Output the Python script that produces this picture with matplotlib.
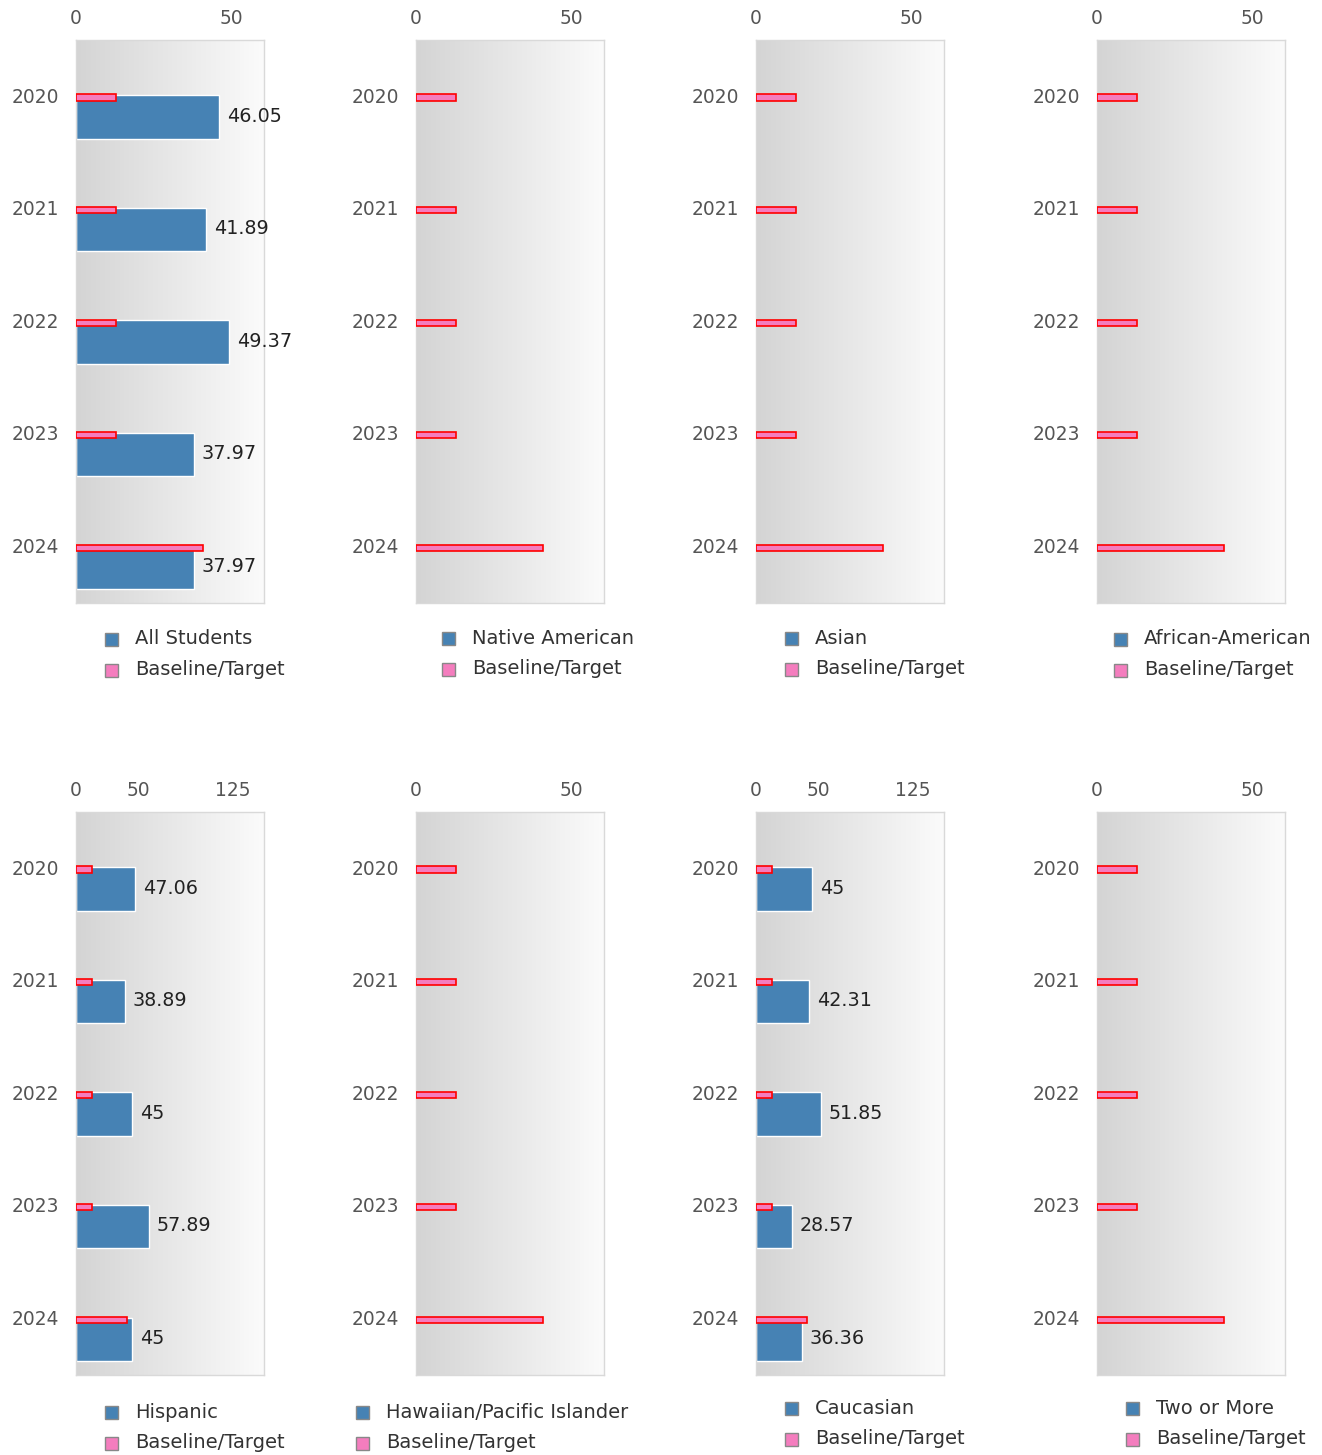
import numpy as np
import matplotlib
matplotlib.use("Agg")
import matplotlib.pyplot as plt
from matplotlib.colors import LinearSegmentedColormap
from matplotlib.patches import Rectangle

# ---------------- data ----------------
years = ["2020", "2021", "2022", "2023", "2024"]
groups = ["All Students", "Native American", "Asian", "African-American",
          "Hispanic", "Hawaiian/Pacific Islander", "Caucasian", "Two or More"]
all_students = [46.05, 41.89, 49.37, 37.97, 37.97]
native_american = [None, None, None, None, None]
asian = [None, None, None, None, None]
african_american = [None, None, None, None, None]
hispanic = [47.06, 38.89, 45, 57.89, 45]
hawaiian = [None, None, None, None, None]
caucasian = [45, 42.31, 51.85, 28.57, 36.36]
two_or_more = [None, None, None, None, None]
baseline_target = [13, 13, 13, 13, 41]
series = [all_students, native_american, asian, african_american,
          hispanic, hawaiian, caucasian, two_or_more]
axis_max = [60.5, 60.5, 60.5, 60.5, 150, 60.5, 150, 60.5]
axis_ticks = [[0, 50], [0, 50], [0, 50], [0, 50],
              [0, 50, 125], [0, 50], [0, 50, 125], [0, 50]]

# ---------------- layout ----------------
W, H = 1322, 1455
fig = plt.figure(figsize=(W / 100, H / 100), dpi=100)
fig.patch.set_facecolor("white")

col_left = [76, 416, 756, 1097]
row_top = [40, 812]
ax_w, ax_h = 188, 563

# legend positions: (marker center x, text left x, row1 y, row2 y)
legend_pos = [(111, 135, 639, 670), (448, 472, 638, 669), (791, 815, 638, 669),
              (1120, 1144, 639, 670), (111, 135, 1412, 1443), (362, 386, 1412, 1443),
              (791, 815, 1408, 1439), (1132, 1156, 1408, 1439)]

BLUE = "#4682B4"
PINK = "#F47DBE"
cmap = LinearSegmentedColormap.from_list("bg", ["#d4d4d4", "#fbfbfb"])
grad = np.linspace(0, 1, 256).reshape(1, -1)

for k, (name, vals) in enumerate(zip(groups, series)):
    r, c = divmod(k, 4)
    left = col_left[c]
    top = row_top[r]
    ax = fig.add_axes([left / W, 1 - (top + ax_h) / H, ax_w / W, ax_h / H])
    xmax = axis_max[k]
    ax.imshow(grad, cmap=cmap, extent=[0, xmax, len(years) - 0.5, -0.5],
              aspect="auto", zorder=0, interpolation="bilinear")
    y = np.arange(len(years))
    # blue bars
    has = [v is not None for v in vals]
    if any(has):
        yy = [yi for yi, h in zip(y, has) if h]
        vv = [v for v in vals if v is not None]
        ax.barh(np.array(yy) - 0.01, vv, height=0.385, align="edge",
                color=BLUE, edgecolor="white", linewidth=1, zorder=2)
        for yi, v in zip(yy, vv):
            ax.annotate(f"{v:g}", xy=(v, yi + 0.175), xytext=(5.5, 0),
                        textcoords="offset points", va="center", ha="left",
                        fontsize=13.8, color="#222222", zorder=4)
    # baseline/target bars
    ax.barh(y + 0.01, baseline_target, height=0.055, align="center",
            color=PINK, edgecolor="#ff0000", linewidth=1.2, zorder=3)

    ax.set_xlim(0, xmax)
    ax.set_ylim(len(years) - 0.5, -0.5)
    ax.set_yticks(y - 0.01)
    ax.set_yticklabels(years)
    ax.set_xticks(axis_ticks[k])
    ax.xaxis.tick_top()
    ax.tick_params(axis="both", length=0, labelsize=13.4, labelcolor="#555555")
    ax.tick_params(axis="y", pad=12.5)
    ax.tick_params(axis="x", pad=8.5)
    for lbl in ax.get_xticklabels():
        lbl.set_x(lbl.get_position()[0])
    for s in ax.spines.values():
        s.set_color("#d9d9d9")
        s.set_linewidth(1)

    # legend
    mx, tx, y1, y2 = legend_pos[k]
    sz = 13
    for yy_, col, lab in [(y1, BLUE, name), (y2, PINK, "Baseline/Target")]:
        fig.patches.append(Rectangle(((mx - sz / 2) / W, 1 - (yy_ + sz / 2) / H),
                                     sz / W, sz / H, transform=fig.transFigure,
                                     facecolor=col, edgecolor="#888888",
                                     linewidth=1, figure=fig))
        fig.text(tx / W, 1 - yy_ / H, lab, ha="left", va="center",
                 fontsize=14, color="#333333")

fig.savefig("out.png", dpi=100)
